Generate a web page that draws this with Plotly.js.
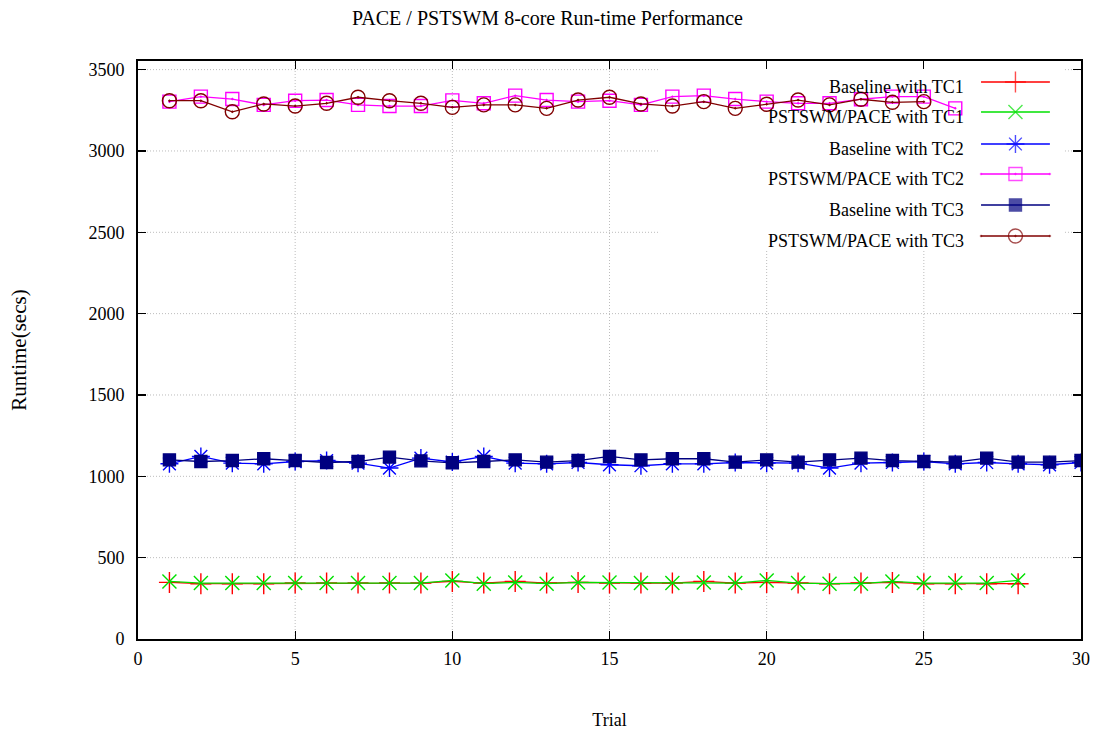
<!DOCTYPE html>
<html>
<head>
<meta charset="utf-8">
<script src="https://cdn.plot.ly/plotly-3.0.1.min.js"></script>
<style>html,body{margin:0;padding:0;background:#fff;}#chart{width:1095px;height:730px;}</style>
</head>
<body>
<div id="chart"></div>
<script>
// ---- data ----
var seriesNames = ["Baseline with TC1", "PSTSWM/PACE with TC1", "Baseline with TC2",
                   "PSTSWM/PACE with TC2", "Baseline with TC3", "PSTSWM/PACE with TC3"];
var baseTC1 = [348,340,340,340,344,344,344,344,344,354,344,354,344,348,344,344,344,354,344,348,344,340,344,348,340,340,340,340];
var pstTC1  = [354,344,344,344,344,344,344,344,344,360,340,348,340,348,348,344,344,348,344,360,344,340,340,354,344,344,344,360];
var baseTC2 = [1077,1122,1081,1077,1091,1097,1081,1051,1112,1088,1122,1081,1077,1085,1071,1065,1077,1077,1085,1081,1081,1051,1081,1085,1091,1077,1085,1077,1071,1085];
var pstTC2  = [3303,3334,3319,3283,3309,3313,3283,3276,3276,3311,3293,3340,3313,3303,3309,3283,3334,3340,3319,3303,3293,3293,3318,3334,3334,3262];
var baseTC3 = [1101,1091,1097,1108,1097,1085,1091,1118,1095,1083,1091,1101,1087,1097,1122,1101,1108,1108,1087,1101,1087,1101,1112,1097,1091,1087,1112,1087,1087,1097];
var pstTC3  = [3309,3309,3241,3289,3276,3293,3330,3309,3293,3268,3283,3283,3262,3313,3330,3289,3276,3303,3262,3287,3313,3283,3318,3299,3303];
var xTicks = [0,5,10,15,20,25,30];
var yTicks = [0,500,1000,1500,2000,2500,3000,3500];

function trials(arr){ var t=[]; for(var i=0;i<arr.length;i++) t.push(i+1); return t; }

var styles = [
  {color:'#ff0000', symbol:'cross-thin-open', size:15, lw:1.3},
  {color:'#00e000', symbol:'x-thin-open', size:14, lw:1.3},
  {color:'#0000ff', symbol:'asterisk-open', size:15, lw:1.3},
  {color:'#ff00ff', symbol:'square-open-dot', size:13, lw:1.3},
  {color:'#000080', symbol:'square', size:12, lw:1.3},
  {color:'#800000', symbol:'circle-open-dot', size:14, lw:1.3}
];
var allY = [baseTC1, pstTC1, baseTC2, pstTC2, baseTC3, pstTC3];

var traces = [];
allY.forEach(function(y, i){
  var s = styles[i];
  traces.push({
    x: trials(y), y: y, name: seriesNames[i], type:'scatter', mode:'lines+markers',
    line:{color:s.color, width:s.lw},
    marker:{color:s.color, symbol:s.symbol, size:s.size, line:{color:s.color, width:1.4}},
    showlegend:false, hoverinfo:'x+y'
  });
});

// ---- custom legend (text left of sample, as in the reference) ----
var legRows = [0.9637, 0.9118, 0.8564, 0.8045, 0.7509, 0.6972];
var legTextX = 0.878, legX0 = 0.894, legXm = 0.9305, legX1 = 0.967;
var fnt = "'Liberation Serif', 'Times New Roman', Times, serif";
var annotations = [];
legRows.forEach(function(ry, i){
  var s = styles[i];
  traces.push({
    x:[legX0, legXm, legX1], y:[ry, ry, ry], xaxis:'x2', yaxis:'y2', type:'scatter', mode:'lines+markers',
    line:{color:s.color, width:s.lw},
    marker:{color:s.color, symbol:s.symbol, size:[0, s.size, 0], line:{color:s.color, width:1.4}},
    showlegend:false, hoverinfo:'skip'
  });
  annotations.push({
    xref:'paper', yref:'paper', x:legTextX, y:ry - 0.008, xanchor:'right', yanchor:'middle',
    text: seriesNames[i], showarrow:false,
    font:{family:fnt, size:18, color:'#000'}
  });
});

// ---- dotted grid, kept clear of the legend box (as gnuplot does) ----
var yMax = 3553;
var boxPx0 = 0.5536, boxPx1 = 0.983, boxPy0 = 0.673;
var boxX0 = boxPx0*30, boxX1 = boxPx1*30, boxY0 = boxPy0*yMax;
var gridLine = {color:'#bcbcbc', width:1, dash:'1px,2px'};
var shapes = [];
yTicks.forEach(function(v){
  if (v <= 0 || v >= yMax) return;
  if (v > boxY0) {
    shapes.push({type:'line', xref:'x', yref:'y', x0:0, x1:boxX0, y0:v, y1:v, line:gridLine, layer:'below'});
    shapes.push({type:'line', xref:'x', yref:'y', x0:boxX1, x1:30, y0:v, y1:v, line:gridLine, layer:'below'});
  } else {
    shapes.push({type:'line', xref:'x', yref:'y', x0:0, x1:30, y0:v, y1:v, line:gridLine, layer:'below'});
  }
});
xTicks.forEach(function(v){
  if (v <= 0 || v >= 30) return;
  var top = (v > boxX0 && v < boxX1) ? boxY0 : yMax;
  shapes.push({type:'line', xref:'x', yref:'y', x0:v, x1:v, y0:0, y1:top, line:gridLine, layer:'below'});
});

var layout = {
  width:1095, height:730,
  margin:{l:138, r:14, t:61, b:91},
  paper_bgcolor:'#fff', plot_bgcolor:'#fff',
  font:{family:fnt, size:16, color:'#000'},
  title:{text:'PACE / PSTSWM 8-core Run-time Performance', x:0.5, xanchor:'center', y:0.975, yanchor:'middle',
         font:{family:fnt, size:20, color:'#000'}},
  xaxis:{range:[0,30], tickvals:xTicks, ticktext:xTicks.map(String), ticks:'inside', ticklen:8, tickwidth:1.3,
         tickcolor:'#000', showline:true, linecolor:'#000', linewidth:2, mirror:'allticks',
         showgrid:false, zeroline:false,
         tickfont:{family:fnt, size:18}, ticklabelstandoff:2,
         title:{text:'Trial', font:{family:fnt, size:18}, standoff:48}},
  yaxis:{range:[0,yMax], tickvals:yTicks, ticktext:yTicks.map(String), ticks:'inside', ticklen:8, tickwidth:1.3,
         tickcolor:'#000', showline:true, linecolor:'#000', linewidth:2, mirror:'allticks',
         showgrid:false, zeroline:false,
         tickfont:{family:fnt, size:18}, ticklabelstandoff:8,
         title:{text:'Runtime(secs)', font:{family:fnt, size:21}, standoff:56}},
  xaxis2:{overlaying:'x', range:[0,1], visible:false, fixedrange:true},
  yaxis2:{overlaying:'y', range:[0,1], visible:false, fixedrange:true},
  shapes:shapes,
  annotations:annotations,
  showlegend:false
};

Plotly.newPlot('chart', traces, layout, {displayModeBar:false, staticPlot:true});
</script>
</body>
</html>
